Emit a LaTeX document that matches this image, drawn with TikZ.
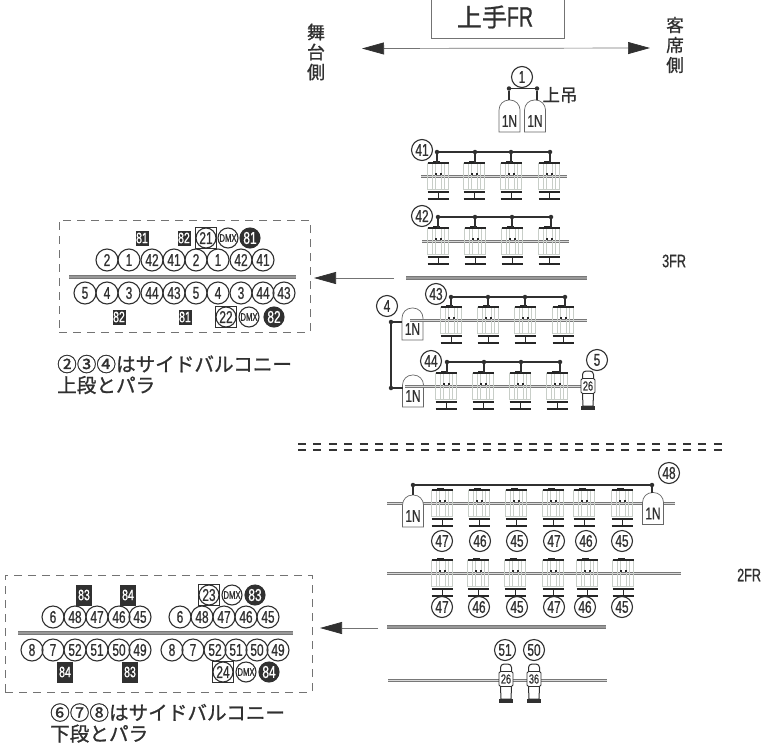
\documentclass[tikz,border=0pt]{standalone}
\usepackage{fontspec}
\usepackage{tikz}
\usetikzlibrary{shapes, arrows.meta, positioning}
\newfontfamily\condfont[FakeStretch=0.7, FakeBold=0.8]{Liberation Sans}
\newfontfamily\cjkfont[FakeBold=1.1]{Noto Sans CJK JP}
\definecolor{scanDark}{RGB}{48,48,48}
\definecolor{scanRail}{RGB}{120,120,120}
\definecolor{scanRib}{RGB}{200,206,200}

\tikzstyle{chCircle} = [draw=scanDark, circle, line width=1.1pt, minimum size=21pt, inner sep=0pt, text=scanDark, font=\condfont\fontsize{17}{17}\selectfont]
\tikzstyle{dmxCircle} = [chCircle, minimum size=20pt, font=\condfont\fontsize{11}{11}\selectfont]
\tikzstyle{darkCircle} = [chCircle, minimum size=20pt, fill=scanDark, text=white]
\tikzstyle{squareRing} = [draw=scanDark, line width=0.9pt, minimum size=21pt, inner sep=0pt]
\tikzstyle{darkSquare} = [fill=scanDark, text=white, inner sep=0pt, minimum width=13pt, minimum height=15pt, font=\condfont\fontsize{15}{15}\selectfont]
\tikzstyle{darkSquareTall} = [darkSquare, minimum width=16pt, minimum height=21pt]
\tikzstyle{busDot} = [circle, fill=scanDark, inner sep=0pt, minimum size=4.5pt]
\tikzstyle{busLine} = [draw=scanDark, line width=1.3pt]
\tikzstyle{fixPipe} = [draw=scanRail, double=black!15, double distance=1pt, line width=1pt]
\tikzstyle{mainRail} = [draw=scanRail, double=black!40, double distance=1.6pt, line width=0.8pt]
\tikzstyle{fixBody} = [draw=scanRib, line width=0.8pt, minimum width=21pt, minimum height=26pt, inner sep=0pt, outer sep=0pt]
\tikzstyle{fixRib} = [draw=scanRib, line width=0.6pt]
\tikzstyle{fixBar} = [draw=black!85, line width=1.5pt]
\tikzstyle{lampBox} = [minimum width=21pt, minimum height=32pt, inner sep=0pt, outer sep=0pt]
\tikzstyle{lampLine} = [draw=black!60, fill=white, line width=0.7pt]
\tikzstyle{lampText} = [inner sep=0pt, text=scanDark, font=\condfont\fontsize{17}{17}\selectfont]
\tikzstyle{profBox} = [draw=scanDark, fill=white, rounded corners=1.5pt, line width=0.9pt, minimum width=14pt, minimum height=15pt, inner sep=0pt, text=scanDark, font=\condfont\fontsize{13}{13}\selectfont]
\tikzstyle{dashBox} = [draw=black!55, line width=0.6pt, dash pattern=on 8pt off 6pt, inner sep=0pt]
\tikzstyle{sepDash} = [draw=black!80, line width=1.5pt, dash pattern=on 8pt off 7.4pt]
\tikzstyle{bigArrow} = [draw=black!55, line width=0.7pt, >={Triangle[length=22pt, width=12pt, color=scanDark]}]
\tikzstyle{capText} = [inner sep=0pt, anchor=west, align=left, text=scanDark, font=\cjkfont\fontsize{19.6}{21}\selectfont]
\tikzstyle{sideText} = [inner sep=0pt, align=center, text=scanDark, font=\cjkfont\fontsize{17.5}{20}\selectfont]
\tikzstyle{floorText} = [inner sep=0pt, anchor=west, text=scanDark, font=\condfont\fontsize{18}{18}\selectfont]

% moving head: body round the pipe, bars below
\newcommand{\fixt}[3]{
    \node [fixBody] (#1) at (#2,#3) {};
    \draw [fixRib] ([xshift=-6pt]#1.north) -- ([xshift=-6pt]#1.south);
    \draw [fixRib] ([xshift=-3pt]#1.north) -- ([xshift=-3pt]#1.south);
    \draw [fixRib] ([xshift=3pt]#1.north) -- ([xshift=3pt]#1.south);
    \draw [fixRib] ([xshift=6pt]#1.north) -- ([xshift=6pt]#1.south);
    \draw [fixBar, line width=1.1pt] (#1.north west) -- (#1.north east);
    \draw [fixBar] ([xshift=-5pt,yshift=1.5pt]#1.north) -- ([xshift=2pt,yshift=1.5pt]#1.north);
    \fill [black!85] ([xshift=-3.5pt,yshift=1pt]#1.center) rectangle ++(2pt,2pt);
    \fill [black!85] ([xshift=1.5pt,yshift=1pt]#1.center) rectangle ++(2pt,2pt);
    \draw [fixBar] ([yshift=-3pt]#1.south west) -- ([yshift=-3pt]#1.south east);
    \draw [fixBar] ([yshift=-10pt]#1.south west) -- ([yshift=-10pt]#1.south east);
    \draw [fixBar, line width=0.9pt] ([yshift=-3pt]#1.south) -- ([yshift=-10pt]#1.south);
}
% 1N lamp with a dome top
\newcommand{\lampone}[3]{
    \node [lampBox] (#1) at (#2,#3) {};
    \draw [lampLine] (#1.south west) [rounded corners=10pt] -- (#1.north west) -- (#1.north east) [sharp corners] -- (#1.south east) -- cycle;
    \node [lampText] (#1t) at ([yshift=-5pt]#1.center) {1N};
}
% profile lamp: narrow top, box with the label, foot
\newcommand{\profl}[4]{
    \draw [lampLine, draw=scanDark, line width=1pt, rounded corners=3.5pt] (#2-5.5,#3-4) -- (#2-5.5,#3-15) -- (#2+5.5,#3-15) -- (#2+5.5,#3-4);
    \draw [lampLine, draw=scanDark, line width=1pt] (#2-5.5,#3+8) -- (#2-5,#3+20) -- (#2+5,#3+20) -- (#2+5.5,#3+8);
    \fill [scanDark] (#2-7,#3+20) rectangle (#2+7,#3+24);
    \node [profBox] (#1) at (#2,#3) {#4};
}

\begin{document}
\begin{tikzpicture}[x=1pt, y=-1pt]
    \useasboundingbox (0,0) rectangle (762,744);

    % Header
    \node [draw=black!55, line width=0.6pt, inner sep=0pt, minimum width=133pt, minimum height=40pt] (title) at (497.5,18) {};
    \node [inner sep=0pt, text=scanDark] (titleText) at (495,17) {\cjkfont\fontsize{25}{25}\selectfont 上手\condfont\fontsize{28}{28}\selectfont FR};
    \node [sideText, font=\cjkfont\fontsize{18}{20}\selectfont] (stageSide) at (316,52) {舞\\台\\側};
    \node [sideText] (houseSide) at (675,45) {客\\席\\側};
    \coordinate (stageEnd) at (362,48.5);
    \coordinate (houseEnd) at (650,48);
    \draw [bigArrow, <->] (stageEnd) -- (houseEnd);

    % Floor labels
    \node [floorText] (floor3) at (662,261) {3FR};
    \node [floorText] (floor2) at (737,575) {2FR};
    \coordinate (sepA1) at (298,444);
    \coordinate (sepA2) at (722,444);
    \coordinate (sepB1) at (298,450);
    \coordinate (sepB2) at (722,450);
    \draw [sepDash] (sepA1) -- (sepA2);
    \draw [sepDash] (sepB1) -- (sepB2);

    % Top hang
    \node [busDot] (d1a) at (509,88.5) {};
    \node [busDot] (d1b) at (537,88.5) {};
    \draw [busLine] (d1a) -- (d1b);
    \node [chCircle, fill=white] (ch1) at (522,77) {1};
    \lampone{lampA}{509.5}{116}
    \lampone{lampB}{535}{116}
    \draw [busLine] (d1a) -- (d1a |- lampA.north);
    \draw [busLine] (d1b) -- (d1b |- lampB.north);
    \node [sideText] (topHang) at (560,95) {上吊};

    % Lamps behind the 48 pipe go later, these under their pipes
    \lampone{lamp43}{412.5}{324}
    \lampone{lamp44}{413}{391}

    % Pipes
    \foreach \n/\xa/\xb/\py in {41/421/567/176, 42/422/569/241, 43/410/587/320, 44/405/583/386, 48/387/675/503, 49/387/681/573, 50/388/607/680} {
        \coordinate (pipe\n a) at (\xa,\py);
        \coordinate (pipe\n b) at (\xb,\py);
        \draw [fixPipe] (pipe\n a) -- (pipe\n b);
    }
    \foreach \n/\xa/\xb/\py in {3/406/587/278, 2/387/606/627, L3/69/296/277, L2/18/293/633} {
        \coordinate (rail\n a) at (\xa,\py);
        \coordinate (rail\n b) at (\xb,\py);
        \draw [mainRail] (rail\n a) -- (rail\n b);
    }

    % 3FR rows
    \foreach \fx/\dx [count=\i] in {438/437, 474/475, 511/511, 549/550} {
        \fixt{f41\i}{\fx}{176}
        \node [busDot] (d41\i) at (\dx,152) {};
        \draw [busLine] (d41\i) -- (d41\i |- f41\i.north);
    }
    \draw [busLine] (d411) -- (d414);
    \node [chCircle] (ch41) at (422,150) {41};

    \foreach \fx/\dx [count=\i] in {438/438, 475/475, 512/512, 549/551} {
        \fixt{f42\i}{\fx}{241}
        \node [busDot] (d42\i) at (\dx,217) {};
        \draw [busLine] (d42\i) -- (d42\i |- f42\i.north);
    }
    \draw [busLine] (d421) -- (d424);
    \node [chCircle] (ch42) at (422,216) {42};

    \foreach \fx/\dx [count=\i] in {451/451, 488/488, 525/525, 563/565} {
        \fixt{f43\i}{\fx}{320}
        \node [busDot] (d43\i) at (\dx,297) {};
        \draw [busLine] (d43\i) -- (d43\i |- f43\i.north);
    }
    \draw [busLine] (d431) -- (d434);
    \node [chCircle] (ch43) at (436,294) {43};

    \foreach \fx/\dx [count=\i] in {446/447, 483/484, 520/521, 557/560} {
        \fixt{f44\i}{\fx}{386}
        \node [busDot] (d44\i) at (\dx,362) {};
        \draw [busLine] (d44\i) -- (d44\i |- f44\i.north);
    }
    \draw [busLine] (d441) -- (d444);
    \node [chCircle] (ch44) at (431,361) {44};

    \node [busDot] (d4a) at (391,322) {};
    \node [busDot] (d4b) at (391,388) {};
    \draw [busLine] (d4a) -- (d4b);
    \draw [busLine] (d4a) -- (d4a -| lamp43.west);
    \draw [busLine] (d4b) -- (d4b -| lamp44.west);
    \node [chCircle] (ch4) at (387,306) {4};

    \profl{prof5}{588}{386}{26}
    \node [chCircle] (ch5) at (597,360) {5};

    % 2FR rows
    \foreach \fx/\cx/\t [count=\i] in {442/442/47, 479/480/46, 516/517/45, 553/554/47, 584/586/46, 622/622/45} {
        \fixt{f48\i}{\fx}{503}
        \node [chCircle] (c48\i) at (\cx,541) {\t};
    }
    \foreach \fx/\cx/\t [count=\i] in {442/442/47, 478/479/46, 515/517/45, 553/554/47, 587/585/46, 623/622/45} {
        \fixt{f49\i}{\fx}{573}
        \node [chCircle] (c49\i) at (\cx,607) {\t};
    }
    \lampone{lamp48a}{413}{511}
    \lampone{lamp48b}{653}{508.5}
    \node [busDot] (d48a) at (413,485) {};
    \node [busDot] (d48b) at (652,485) {};
    \draw [busLine] (d48a) -- (d48b);
    \draw [busLine] (d48a) -- (d48a |- lamp48a.north);
    \draw [busLine] (d48b) -- (d48b |- lamp48b.north);
    \node [chCircle] (ch48) at (669,473) {48};

    \profl{prof51}{506}{679}{26}
    \profl{prof50}{534}{679}{36}
    \node [chCircle] (ch51) at (505,650) {51};
    \node [chCircle] (ch50) at (534,650) {50};

    % Side arrows
    \coordinate (arrow3a) at (394,278);
    \coordinate (arrow3b) at (314,278);
    \draw [bigArrow, ->] (arrow3a) -- (arrow3b);
    \coordinate (arrow2a) at (378,628);
    \coordinate (arrow2b) at (320,628);
    \draw [bigArrow, ->] (arrow2a) -- (arrow2b);

    % Upper box
    \node [dashBox, minimum width=251pt, minimum height=112pt] (boxUpper) at (184.5,276) {};
    \node [darkSquare] (su1) at (142,238) {81};
    \node [darkSquare] (su2) at (184,238) {82};
    \node [squareRing] (ru1) at (206,238) {};
    \node [chCircle, minimum size=20pt] (cu21) at (206,238) {21};
    \node [dmxCircle] (dmxu1) at (228,238) {DMX};
    \node [darkCircle] (du1) at (250,238) {81};
    \foreach \x/\t [count=\i] in {107/2, 129/1, 152/42, 174/41, 196/2, 218/1, 241/42, 263/41} {
        \node [chCircle, minimum size=22pt] (ua\i) at (\x,260) {\t};
    }
    \foreach \x/\t [count=\i] in {85/5, 107/4, 129/3, 152/44, 174/43, 196/5, 218/4, 241/3, 263/44, 284/43} {
        \node [chCircle, minimum size=22pt] (ub\i) at (\x,293) {\t};
    }
    \node [darkSquare] (su3) at (119,317) {82};
    \node [darkSquare] (su4) at (185,317) {81};
    \node [squareRing] (ru2) at (226,317) {};
    \node [chCircle, minimum size=20pt] (cu22) at (226,317) {22};
    \node [dmxCircle] (dmxu2) at (249,317) {DMX};
    \node [darkCircle] (du2) at (274,317) {82};
    \node [capText] (capUpper) at (57,374.5) {②③④はサイドバルコニー\\上段とパラ};

    % Lower box
    \node [dashBox, minimum width=307pt, minimum height=117pt] (boxLower) at (158.5,633.5) {};
    \node [darkSquareTall] (sl1) at (84,595) {83};
    \node [darkSquareTall] (sl2) at (128,595) {84};
    \node [squareRing] (rl1) at (209,595) {};
    \node [chCircle, minimum size=20pt] (cl23) at (209,595) {23};
    \node [dmxCircle] (dmxl1) at (232,595) {DMX};
    \node [darkCircle] (dl1) at (255,595) {83};
    \foreach \x/\t [count=\i] in {53/6, 75/48, 97/47, 119/46, 140/45, 180/6, 202/48, 224/47, 246/46, 268/45} {
        \node [chCircle, minimum size=22pt] (la\i) at (\x,617) {\t};
    }
    \foreach \x/\t [count=\i] in {32/8, 53/7, 75/52, 97/51, 119/50, 140/49, 172/8, 193/7, 215/52, 236/51, 257/50, 278/49} {
        \node [chCircle, minimum size=22pt] (lb\i) at (\x,650) {\t};
    }
    \node [darkSquareTall] (sl3) at (65,672) {84};
    \node [darkSquareTall] (sl4) at (130,672) {83};
    \node [squareRing] (rl2) at (223,672) {};
    \node [chCircle, minimum size=20pt] (cl24) at (223,672) {24};
    \node [dmxCircle] (dmxl2) at (246,672) {DMX};
    \node [darkCircle] (dl2) at (269,672) {84};
    \node [capText] (capLower) at (50,723) {⑥⑦⑧はサイドバルコニー\\下段とパラ};
\end{tikzpicture}
\end{document}
